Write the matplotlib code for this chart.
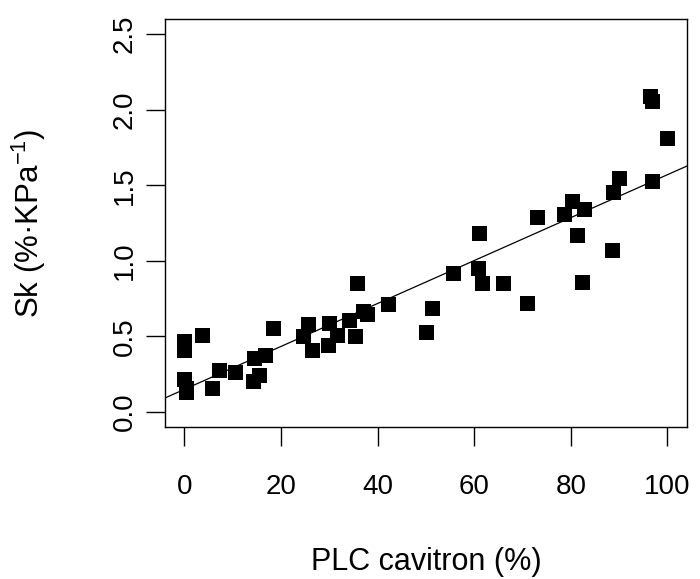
import numpy as np
import matplotlib
matplotlib.use("Agg")
import matplotlib.pyplot as plt

plt.rcParams['font.family'] = ['Liberation Sans', 'DejaVu Sans']
plt.rcParams['mathtext.fontset'] = 'custom'
plt.rcParams['mathtext.rm'] = 'Liberation Sans'
plt.rcParams['mathtext.it'] = 'Liberation Sans'
plt.rcParams['mathtext.default'] = 'regular'

plc = [0.0, 0.0, 0.0, 0.4, 0.4, 3.6, 5.8, 7.2, 10.5, 14.3, 14.5, 15.5, 16.7, 18.4,
       24.6, 25.7, 26.5, 30.0, 29.8, 31.6, 34.0, 35.3,
       35.8, 36.9, 37.9, 42.2, 50.0, 51.2, 55.7, 60.7, 61.1, 61.6, 66.0, 70.9,
       73.0, 78.5, 80.3, 82.8, 81.2, 82.4, 88.5, 88.8, 89.9, 96.3, 96.9, 96.9, 99.9]
sk = [0.47, 0.41, 0.215, 0.159, 0.132, 0.506, 0.158, 0.28, 0.264, 0.207, 0.357, 0.246, 0.374, 0.555,
      0.504, 0.583, 0.41, 0.588, 0.444, 0.51, 0.61, 0.50,
      0.852, 0.669, 0.647, 0.713, 0.528, 0.687, 0.918, 0.951, 1.182, 0.852, 0.852, 0.72,
      1.288, 1.31, 1.396, 1.341, 1.171, 0.859, 1.072, 1.453, 1.546, 2.091, 2.058, 1.528, 1.81]

xticks = [0, 20, 40, 60, 80, 100]
yticks = [0.0, 0.5, 1.0, 1.5, 2.0, 2.5]
ytick_labels = ["0.0", "0.5", "1.0", "1.5", "2.0", "2.5"]

W, H = 700, 579
fig = plt.figure(figsize=(W / 100, H / 100), dpi=100)
ax = fig.add_axes([165 / W, 1 - 427 / H, (686.7 - 165) / W, (427 - 19) / H])

ax.scatter(plc, sk, marker='s', s=10.8 ** 2, color='black', linewidths=0, zorder=3)

m, b = np.polyfit(plc, sk, 1)
ax.axline((0, b), slope=m, color='black', lw=0.9, zorder=2)

ax.set_xlim(-4, 104)
ax.set_ylim(-0.1, 2.6)
ax.set_xticks(xticks)
ax.set_yticks(yticks)
ax.set_yticklabels(ytick_labels, rotation=90, va='center')

for sp in ax.spines.values():
    sp.set_linewidth(1.0)
ax.tick_params(axis='both', length=13.7, width=1.0, labelsize=20)
ax.tick_params(axis='x', pad=20)
ax.tick_params(axis='y', pad=6)

ax.set_xlabel("PLC cavitron (%)", fontsize=22, labelpad=34)
ax.set_ylabel("Sk (%·KPa$^{-1}$)", fontsize=22.5, labelpad=46)

fig.savefig("out.png", dpi=100)
